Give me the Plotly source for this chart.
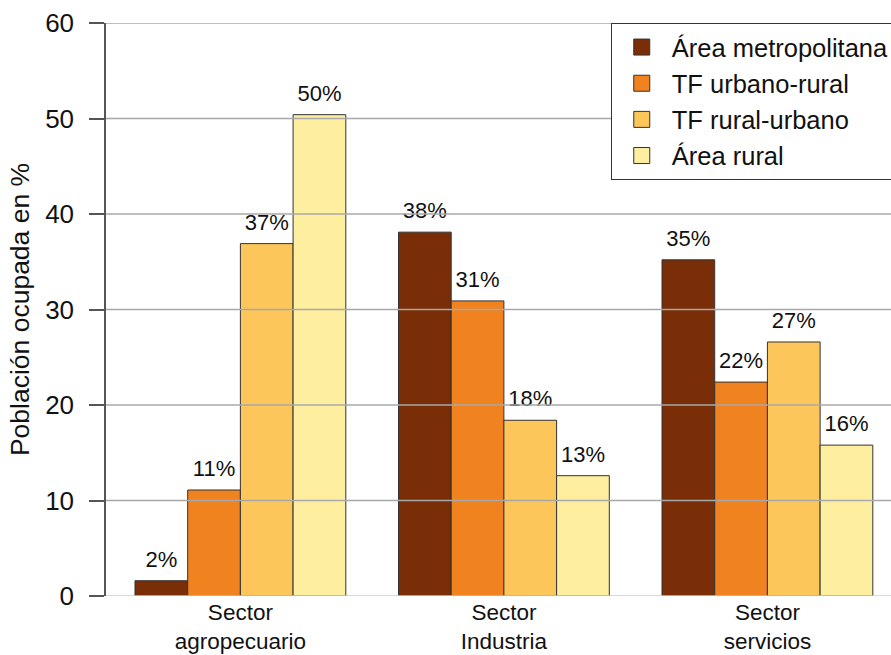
import plotly.graph_objects as go

categories = ["Sector<br>agropecuario", "Sector<br>Industria", "Sector<br>servicios"]
series_names = ["Área metropolitana", "TF urbano-rural", "TF rural-urbano", "Área rural"]
area_metropolitana = [1.6, 38.1, 35.2]
tf_urbano_rural = [11.1, 30.9, 22.4]
tf_rural_urbano = [36.9, 18.4, 26.6]
area_rural = [50.4, 12.6, 15.8]
y_ticks = [0, 10, 20, 30, 40, 50, 60]

series_values = [area_metropolitana, tf_urbano_rural, tf_rural_urbano, area_rural]
colors = ["#7A2E08", "#F08220", "#FDC65A", "#FEEEA0"]
FONT = "Liberation Sans, Arial, sans-serif"

fig = go.Figure()
for name, vals, col in zip(series_names, series_values, colors):
    fig.add_trace(go.Bar(
        x=categories, y=vals, name=name, showlegend=False,
        marker=dict(color=col, line=dict(color="#333333", width=1)),
    ))
for name, vals in zip(series_names, series_values):
    fig.add_trace(go.Scatter(
        x=categories, y=vals, mode="markers+text", showlegend=False,
        text=[f"{round(v)}%" for v in vals], textposition="top center",
        marker=dict(size=12, color="rgba(0,0,0,0)"),
        textfont=dict(size=22, color="#111111", family=FONT),
        cliponaxis=False, hoverinfo="skip",
    ))
# legend entries
for name, col in zip(series_names, colors):
    fig.add_trace(go.Scatter(
        x=[None], y=[None], mode="markers", name=name, xaxis="x2", yaxis="y2",
        marker=dict(symbol="square", size=16, color=col, line=dict(color="#333333", width=1)),
    ))

shapes = []
for t in y_ticks[1:]:
    shapes.append(dict(type="line", xref="paper", x0=0, x1=1, yref="y", y0=t, y1=t,
                       line=dict(color="#a8a8a8", width=1.5), layer="above"))
shapes.append(dict(type="line", xref="paper", x0=0, x1=1, yref="y", y0=0, y1=0,
                   line=dict(color="#cccccc", width=1.5), layer="above"))

fig.update_layout(
    width=891, height=655,
    margin=dict(l=106, r=0, t=23, b=59, autoexpand=False),
    paper_bgcolor="white", plot_bgcolor="white",
    barmode="group", bargap=0.2, bargroupgap=0,
    scattermode="group", scattergap=0.2,
    font=dict(family=FONT, size=25, color="#111111"),
    shapes=shapes,
    xaxis=dict(range=[-0.51, 2.469], showline=False, ticks="", showgrid=False,
               tickfont=dict(size=22.5), ticklabelstandoff=0, automargin=False),
    yaxis=dict(range=[0, 60], tickvals=y_ticks, showgrid=False, zeroline=False,
               showline=True, linecolor="#555555", linewidth=1.5,
               ticks="outside", ticklen=15, tickcolor="#555555", tickwidth=1.5,
               tickfont=dict(size=26), ticklabelstandoff=10, automargin=False,
               title=dict(text="Población ocupada en %", font=dict(size=26.5), standoff=8)),
    xaxis2=dict(overlaying="x", visible=False, range=[0, 1]),
    yaxis2=dict(overlaying="y", visible=False, range=[0, 1]),
    legend=dict(x=0.643, xanchor="left", y=1, yanchor="top",
                bgcolor="white", bordercolor="#333333", borderwidth=1,
                font=dict(size=25.5, color="#111111"), itemwidth=50,
                tracegroupgap=0),
)

fig.write_html("out.html")
